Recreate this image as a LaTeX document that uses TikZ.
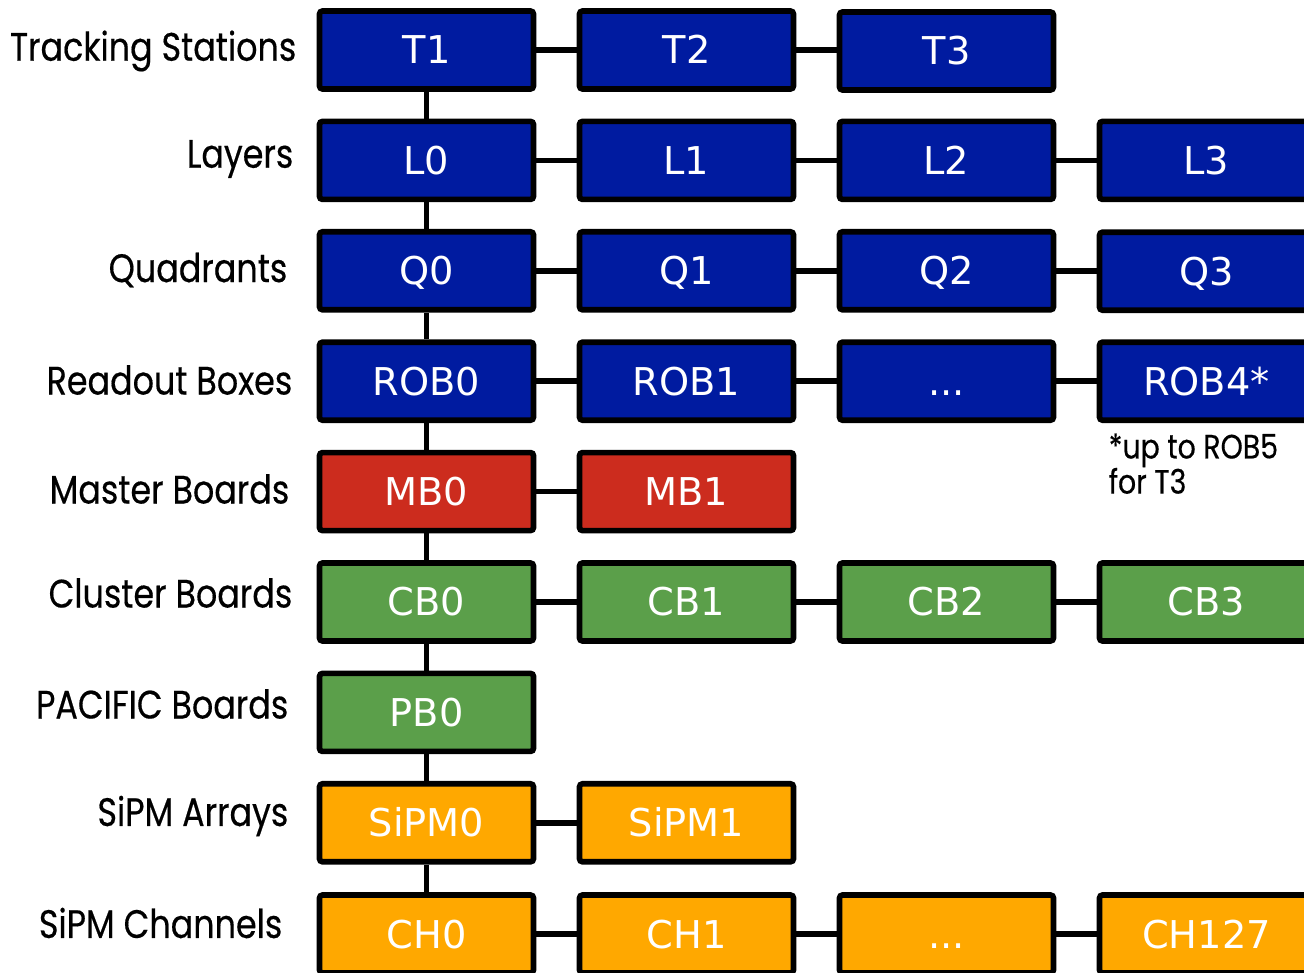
\documentclass[tikz,border=0pt]{standalone}
\usepackage{fontspec}
\setmainfont{DejaVu Sans}
\newfontfamily\labelfont[FakeStretch=0.84, FakeBold=0.4]{Poppins}
\definecolor{tsblue}{HTML}{001BA0}
\definecolor{mbred}{HTML}{CC2C1E}
\definecolor{cbgreen}{HTML}{5B9F4A}
\definecolor{sipmorange}{HTML}{FFA800}
\begin{document}
\begin{tikzpicture}[
    % Box styles (hierarchy levels and row labels)
    box/.style={fill=#1, draw=black, line width=1.6pt, text=white, font=\fontsize{10.9}{13}\selectfont, minimum width=2.14cm, minimum height=0.78cm, inner sep=0pt, text height=0.28cm, text depth=0pt, rounded corners=0.3mm},
    lvl/.style={anchor=east, text=black, font=\labelfont\fontsize{11.3}{13}\selectfont, inner sep=0pt},
    note/.style={anchor=north west, text=black, font=\labelfont\fontsize{9.6}{10}\selectfont, align=left, inner sep=0pt},
    link/.style={line width=1.55pt, draw=black}
]
\useasboundingbox (0, 0) rectangle (13.04, -9.73);
\clip (0, 0) rectangle (13.04, -9.73);

% ---------------------------------------------------------
% 1. ROW LABELS
% ---------------------------------------------------------
\node[lvl] (lbltrack) at (2.97, -0.51) {Tracking Stations};
\node[lvl] (lbllayer) at (2.94, -1.59) {Layers};
\node[lvl] (lblquad)  at (2.88, -2.70) {Quadrants};
\node[lvl] (lblrob)   at (2.93, -3.80) {Readout Boxes};
\node[lvl] (lblmb)    at (2.90, -4.89) {Master Boards};
\node[lvl] (lblcb)    at (2.93, -5.93) {Cluster Boards};
\node[lvl] (lblpb)    at (2.89, -7.04) {PACIFIC Boards};
\node[lvl] (lblsipm)  at (2.89, -8.16) {SiPM Arrays};
\node[lvl] (lblch)    at (2.83, -9.23) {SiPM Channels};

% ---------------------------------------------------------
% 2. BOXES (Nodes)
% ---------------------------------------------------------
% --- Tracking stations ---
\node[box=tsblue] (t1) at (4.265, -0.50) {T1};
\node[box=tsblue] (t2) at (6.865, -0.50) {T2};
\node[box=tsblue] (t3) at (9.465, -0.51) {T3};

% --- Layers ---
\node[box=tsblue] (l0) at (4.265, -1.604) {L0};
\node[box=tsblue] (l1) at (6.865, -1.604) {L1};
\node[box=tsblue] (l2) at (9.465, -1.604) {L2};
\node[box=tsblue] (l3) at (12.065, -1.604) {L3};

% --- Quadrants ---
\node[box=tsblue] (q0) at (4.265, -2.708) {Q0};
\node[box=tsblue] (q1) at (6.865, -2.708) {Q1};
\node[box=tsblue] (q2) at (9.465, -2.708) {Q2};
\node[box=tsblue] (q3) at (12.065, -2.712) {Q3};

% --- Readout boxes ---
\node[box=tsblue] (rob0) at (4.265, -3.812) {ROB0};
\node[box=tsblue] (rob1) at (6.865, -3.812) {ROB1};
\node[box=tsblue] (robdots) at (9.465, -3.812) {...};
\node[box=tsblue] (rob4) at (12.065, -3.812) {ROB4*};
\node[note] (robnote) at (11.08, -4.33) {*up to ROB5\\for T3};

% --- Master boards ---
\node[box=mbred] (mb0) at (4.265, -4.916) {MB0};
\node[box=mbred] (mb1) at (6.865, -4.916) {MB1};

% --- Cluster boards ---
\node[box=cbgreen] (cb0) at (4.265, -6.02) {CB0};
\node[box=cbgreen] (cb1) at (6.865, -6.02) {CB1};
\node[box=cbgreen] (cb2) at (9.465, -6.02) {CB2};
\node[box=cbgreen] (cb3) at (12.065, -6.02) {CB3};

% --- PACIFIC boards ---
\node[box=cbgreen] (pb0) at (4.265, -7.124) {PB0};

% --- SiPM arrays ---
\node[box=sipmorange] (sipm0) at (4.265, -8.228) {SiPM0};
\node[box=sipmorange] (sipm1) at (6.865, -8.228) {SiPM1};

% --- SiPM channels ---
\node[box=sipmorange] (ch0) at (4.265, -9.34) {CH0};
\node[box=sipmorange] (ch1) at (6.865, -9.34) {CH1};
\node[box=sipmorange] (chdots) at (9.465, -9.34) {...};
\node[box=sipmorange] (ch127) at (12.065, -9.34) {CH127};

% ---------------------------------------------------------
% 3. CONNECTORS
% ---------------------------------------------------------
% Horizontal (siblings)
\foreach \a/\b in {t1/t2, t2/t3, l0/l1, l1/l2, l2/l3, q0/q1, q1/q2, q2/q3,
    rob0/rob1, rob1/robdots, robdots/rob4, mb0/mb1, cb0/cb1, cb1/cb2, cb2/cb3,
    sipm0/sipm1, ch0/ch1, ch1/chdots, chdots/ch127}
  \draw[link] (\a.east) -- (\a.east -| \b.west);

% Vertical trunk
\foreach \a/\b in {t1/l0, l0/q0, q0/rob0, rob0/mb0, mb0/cb0, cb0/pb0, pb0/sipm0, sipm0/ch0}
  \draw[link] (\a.south) -- (\b.north);

\end{tikzpicture}
\end{document}
